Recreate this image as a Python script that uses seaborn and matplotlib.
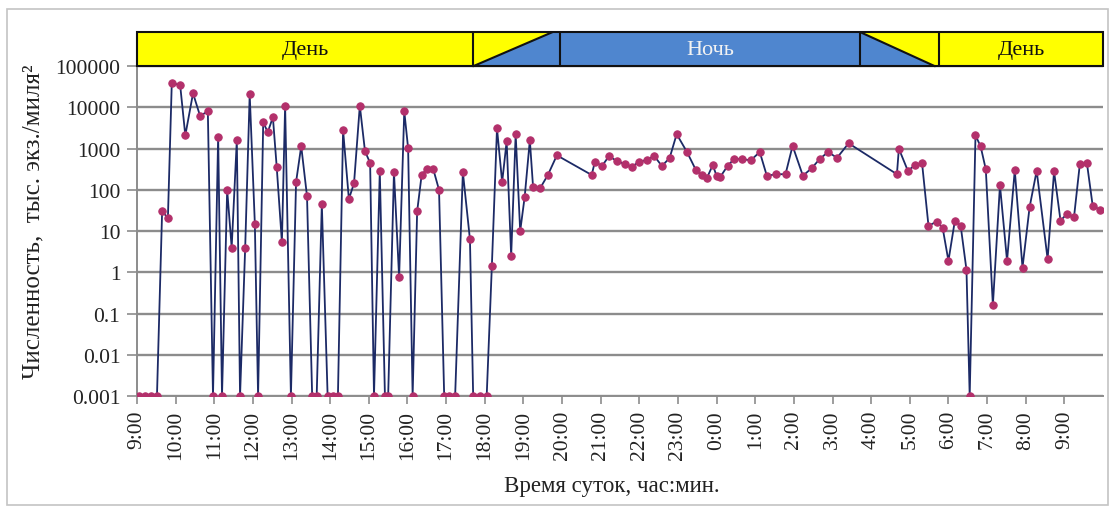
import numpy as np
import matplotlib
matplotlib.use("Agg")
import matplotlib.pyplot as plt
import seaborn as sns
from matplotlib.patches import Rectangle, Polygon
from matplotlib.lines import Line2D
from matplotlib.ticker import NullLocator

# Sampling times (clock time, the series runs past midnight into the next morning)
times = ["9:03", "9:12", "9:22", "9:31", "9:39", "9:48", "9:54", "10:07", "10:15", "10:27",
         "10:38", "10:50", "10:58", "11:06", "11:12", "11:20", "11:27", "11:35", "11:40", "11:48",
         "11:55", "12:03", "12:08", "12:16", "12:23", "12:31", "12:37", "12:45", "12:50", "12:59",
         "13:07", "13:15", "13:24", "13:32", "13:39", "13:47", "13:56", "14:04", "14:12", "14:20",
         "14:29", "14:37", "14:46", "14:54", "15:02", "15:08", "15:17", "15:25", "15:30", "15:39",
         "15:47", "15:55", "16:01", "16:08", "16:15", "16:22", "16:30", "16:40", "16:49", "16:57",
         "17:04", "17:14", "17:26", "17:37", "17:42", "17:52", "18:03", "18:11", "18:19", "18:27",
         "18:34", "18:41", "18:48", "18:55", "19:02", "19:10", "19:15", "19:26", "19:38", "19:52",
         "20:46", "20:51", "21:02", "21:13", "21:25", "21:38", "21:48", "21:59", "22:12", "22:23",
         "22:35", "22:47", "22:58", "23:14", "23:28", "23:37", "23:45", "23:54", "0:00", "0:06",
         "0:17", "0:27", "0:39", "0:53", "1:07", "1:18", "1:33", "1:47", "1:58", "2:14",
         "2:28", "2:40", "2:53", "3:07", "3:25", "4:40", "4:43", "4:57", "5:08", "5:19",
         "5:29", "5:42", "5:51", "6:00", "6:10", "6:19", "6:28", "6:33", "6:42", "6:50",
         "6:58", "7:09", "7:20", "7:31", "7:43", "7:55", "8:06", "8:17", "8:34", "8:44",
         "8:54", "9:04", "9:15", "9:24", "9:35", "9:44", "9:55"]

# Abundance, thousand ind. per square mile (0.001 marks an empty catch)
abundance = [0.001, 0.001, 0.001, 0.001, 30, 21, 39000, 35000, 2100, 22000,
             6200, 8100, 0.001, 1950, 0.001, 100, 4, 1600, 0.001, 4,
             21000, 15, 0.001, 4400, 2500, 5800, 350, 5.4, 11000, 0.001,
             155, 1150, 70, 0.001, 0.001, 45, 0.001, 0.001, 0.001, 2800,
             60, 145, 11000, 870, 450, 0.001, 285, 0.001, 0.001, 270,
             0.76, 8100, 1020, 0.001, 30, 230, 320, 320, 100, 0.001,
             0.001, 0.001, 270, 6.3, 0.001, 0.001, 0.001, 1.4, 3100, 155,
             1500, 2.5, 2250, 10, 68, 1600, 118, 110, 230, 690,
             230, 480, 380, 660, 500, 420, 355, 480, 530, 670,
             380, 590, 2250, 830, 300, 230, 195, 400, 220, 210,
             380, 560, 560, 520, 830, 220, 240, 240, 1170, 220,
             340, 560, 830, 600, 1350, 240, 1000, 290, 400, 450,
             13.5, 17, 12, 1.9, 18, 13.5, 1.15, 0.001, 2100, 1130,
             316, 0.16, 130, 1.9, 300, 1.3, 38, 290, 2.1, 280,
             18, 26, 22, 420, 450, 41, 33]

# Hour ticks along the time axis
tick_hours = list(range(9, 34))
tick_labels = [f"{h % 24}:00" for h in tick_hours]

y_ticks = [1e-3, 1e-2, 1e-1, 1, 10, 100, 1000, 10000, 100000]
y_tick_labels = ["0.001", "0.01", "0.1", "1", "10", "100", "1000", "10000", "100000"]

# Day / night band: phase names and boundaries (hours from midnight of day one)
phase_names = ["День", "Ночь", "День"]
dusk_start, dusk_end, dusk_top = 17.70, 19.95, 19.76
dawn_start, dawn_end, dawn_bottom = 27.71, 29.75, 29.65


def to_hours(labels):
    out, offset, prev = [], 0.0, None
    for s in labels:
        h, m = map(int, s.split(":"))
        t = h + m / 60 + offset
        if prev is not None and t < prev:
            offset += 24
            t += 24
        out.append(t)
        prev = t
    return np.array(out)


hours = to_hours(times)

sns.set_theme(style="white")
plt.rcParams["font.family"] = ["Liberation Serif", "DejaVu Serif"]

W, H = 1109, 510
fig = plt.figure(figsize=(W / 100, H / 100), dpi=100)
fig.patch.set_facecolor("white")
ax = fig.add_axes([137 / W, 1 - 397 / H, 966 / W, 364 / H])

LINE = "#1c2a66"
MARK = "#b3306b"
GRID = "#8c8c8c"

sns.lineplot(x=hours, y=abundance, ax=ax, color=LINE, linewidth=1.3,
             marker="o", markersize=5.3, markerfacecolor=MARK, markeredgecolor=MARK,
             errorbar=None, sort=False, zorder=3)

ax.set_yscale("log")
y_top = 10 ** 5.83
ax.set_ylim(1e-3, y_top)
ax.set_xlim(9, 34)

ax.set_yticks(y_ticks)
ax.set_yticklabels(y_tick_labels)
ax.yaxis.set_minor_locator(NullLocator())
ax.set_xticks(tick_hours)
ax.set_xticklabels(tick_labels, rotation=90)

ax.yaxis.grid(True, color=GRID, linewidth=1.7)
ax.xaxis.grid(False)
ax.set_axisbelow(True)
for side in ("top", "right"):
    ax.spines[side].set_visible(False)
for side in ("left", "bottom"):
    ax.spines[side].set_color(GRID)
    ax.spines[side].set_linewidth(1.4)

ax.tick_params(axis="y", left=True, length=7, width=1.2, color=GRID,
               labelsize=15.5, pad=5, labelcolor="#222222")
ax.tick_params(axis="x", bottom=True, length=6, width=1.2, color=GRID,
               labelsize=15.5, pad=4, labelcolor="#222222")

ax.set_xlabel("Время суток, час:мин.", fontsize=16.5, color="#222222", va="center")
ax.xaxis.set_label_coords((612 - 137) / 966, (397 - 487) / 364)
ax.set_ylabel("Численность,  тыс. экз./миля²", fontsize=18, color="#222222", va="center")
ax.yaxis.set_label_coords((33 - 137) / 966, (397 - 222) / 364)

# Day / night band above the data
YELLOW = "#ffff00"
BLUE = "#4f86cf"
yb, yt = 1e5, y_top
band = dict(transform=ax.transData, clip_on=False, zorder=5, linewidth=0)
ax.add_patch(Rectangle((9, yb), dusk_start - 9, yt - yb, facecolor=YELLOW, **band))
ax.add_patch(Polygon([(dusk_start, yb), (dusk_start, yt), (dusk_top, yt)], facecolor=YELLOW, **band))
ax.add_patch(Polygon([(dusk_start, yb), (dusk_top, yt), (dusk_end, yt), (dusk_end, yb)], facecolor=BLUE, **band))
ax.add_patch(Rectangle((dusk_end, yb), dawn_start - dusk_end, yt - yb, facecolor=BLUE, **band))
ax.add_patch(Polygon([(dawn_start, yt), (dawn_bottom, yb), (dawn_start, yb)], facecolor=BLUE, **band))
ax.add_patch(Polygon([(dawn_start, yt), (dawn_end, yt), (dawn_end, yb), (dawn_bottom, yb)], facecolor=YELLOW, **band))
ax.add_patch(Rectangle((dawn_end, yb), 34 - dawn_end, yt - yb, facecolor=YELLOW, **band))

edge = dict(color="#111111", linewidth=1.5, transform=ax.transData, clip_on=False, zorder=6)
ax.add_patch(Rectangle((9, yb), 25, yt - yb, fill=False, edgecolor="#111111", linewidth=1.5,
                       transform=ax.transData, clip_on=False, zorder=6))
for xs, ys in [([dusk_start, dusk_start], [yb, yt]), ([dusk_end, dusk_end], [yb, yt]),
               ([dusk_start, dusk_top], [yb, yt]),
               ([dawn_start, dawn_start], [yb, yt]), ([dawn_end, dawn_end], [yb, yt]),
               ([dawn_start, dawn_bottom], [yt, yb])]:
    ax.add_line(Line2D(xs, ys, **edge))

y_mid = np.sqrt(yb * yt)
ax.text((9 + dusk_start) / 2, y_mid, phase_names[0], ha="center", va="center",
        fontsize=16, color="#111111", zorder=7, clip_on=False)
ax.text((dusk_end + dawn_start) / 2, y_mid, phase_names[1], ha="center", va="center",
        fontsize=16, color="#f2f2f2", zorder=7, clip_on=False)
ax.text((dawn_end + 34) / 2, y_mid, phase_names[2], ha="center", va="center",
        fontsize=16, color="#111111", zorder=7, clip_on=False)

# Light frame around the chart area
fig.add_artist(Rectangle((7 / W, 4 / H), 1101 / W, 496 / H, transform=fig.transFigure,
                         fill=False, edgecolor="#c4c4c4", linewidth=1.2))

fig.savefig("out.png", dpi=100, facecolor="white")
